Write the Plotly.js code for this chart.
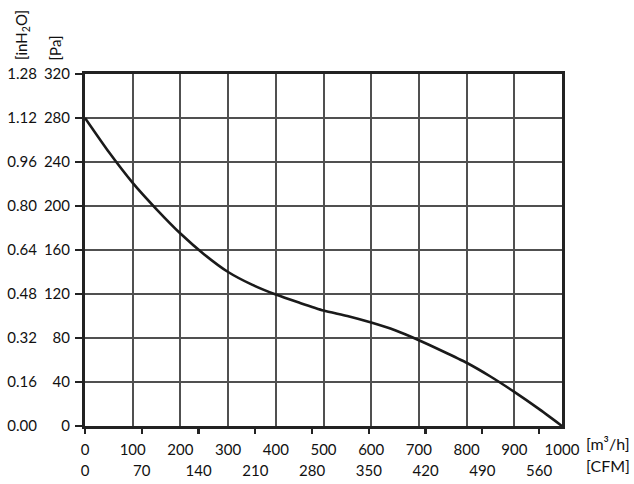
<!DOCTYPE html>
<html>
<head>
<meta charset="utf-8">
<script src="https://cdn.plot.ly/plotly-3.0.1.min.js"></script>
<style>html,body{margin:0;padding:0;background:#fff;}#chart{width:634px;height:484px;}</style>
</head>
<body>
<div id="chart"></div>
<script>
// Airflow in m³/h and static pressure in Pa
const flowM3h = [0, 50, 100, 150, 200, 250, 300, 350, 400, 450, 500, 550, 600, 650, 700, 750, 800, 850, 900, 950, 1000];
const pressurePa = [280, 249, 221, 197, 175, 156, 140, 128.5, 119.5, 112, 105, 100, 94, 87, 78, 68, 57.5, 45, 31, 16, 0];

const m3hTicks = [0, 100, 200, 300, 400, 500, 600, 700, 800, 900, 1000];
const cfmTicks = [0, 70, 140, 210, 280, 350, 420, 490, 560];
const paTicks = [0, 40, 80, 120, 160, 200, 240, 280, 320];
const inH2OTicks = [0, 0.16, 0.32, 0.48, 0.64, 0.80, 0.96, 1.12, 1.28];
const inH2OLabels = ["0.00", "0.16", "0.32", "0.48", "0.64", "0.80", "0.96", "1.12", "1.28"];

const M3H_PER_CFM = 1.7;
const PA_PER_INH2O = 250;

const font = {family: "Lato, sans-serif", size: 15, color: "#111"};

const trace = {
  x: flowM3h, y: pressurePa, type: "scatter", mode: "lines",
  line: {color: "#1a1a1a", width: 2.6, shape: "spline", smoothing: 0.6},
  hoverinfo: "skip", xaxis: "x", yaxis: "y"
};
// same curve in CFM / inH2O units, invisible, so the secondary axes are drawn
const traceAlt = {
  x: flowM3h.map(v => v / M3H_PER_CFM), y: pressurePa.map(v => v / PA_PER_INH2O),
  type: "scatter", mode: "lines", line: {width: 0, color: "rgba(0,0,0,0)"},
  opacity: 0, hoverinfo: "skip", xaxis: "x2", yaxis: "y2"
};

const layout = {
  width: 634, height: 484,
  margin: {l: 85, r: 72, t: 74, b: 58},
  paper_bgcolor: "#fff", plot_bgcolor: "#fff",
  showlegend: false,
  font: font,
  xaxis: {
    range: [0, 1000], autorange: false,
    tickvals: m3hTicks, ticktext: m3hTicks.map(String),
    ticks: "", showgrid: true, gridcolor: "#505050", gridwidth: 2,
    showline: true, linecolor: "#222", linewidth: 3, mirror: true,
    zeroline: false, ticklabelstandoff: 8, tickfont: font
  },
  xaxis2: {
    overlaying: "x", anchor: "free", position: 0, side: "bottom",
    range: [0, 1000 / M3H_PER_CFM], autorange: false,
    tickvals: cfmTicks, ticktext: cfmTicks.map(String),
    ticks: "outside", ticklen: 7, tickwidth: 2.2, tickcolor: "#222",
    showgrid: false, showline: false, zeroline: false,
    ticklabelstandoff: 24, tickfont: font
  },
  yaxis: {
    range: [0, 320], autorange: false,
    tickvals: paTicks, ticktext: paTicks.map(String),
    ticks: "outside", ticklen: 7, tickwidth: 2.2, tickcolor: "#222",
    showgrid: true, gridcolor: "#505050", gridwidth: 2,
    showline: true, linecolor: "#222", linewidth: 3, mirror: true,
    zeroline: false, ticklabelstandoff: 2, tickfont: font
  },
  yaxis2: {
    overlaying: "y", anchor: "free", position: 0, side: "left",
    range: [0, 320 / PA_PER_INH2O], autorange: false,
    tickvals: inH2OTicks, ticktext: inH2OLabels,
    ticks: "", showgrid: false, showline: false, zeroline: false,
    ticklabelstandoff: 48, tickfont: font
  },
  annotations: [
    {text: "[inH<sub>2</sub>O]", xref: "paper", yref: "paper", x: -0.132, y: 1.034,
     xanchor: "center", yanchor: "bottom", textangle: -90, showarrow: false, font: font},
    {text: "[Pa]", xref: "paper", yref: "paper", x: -0.063, y: 1.034,
     xanchor: "center", yanchor: "bottom", textangle: -90, showarrow: false, font: font},
    {text: "[m³/h]", xref: "paper", yref: "paper", x: 1.046, y: -0.05,
     xanchor: "left", yanchor: "middle", showarrow: false, font: {family: font.family, size: 16, color: font.color}},
    {text: "[CFM]", xref: "paper", yref: "paper", x: 1.046, y: -0.113,
     xanchor: "left", yanchor: "middle", showarrow: false, font: {family: font.family, size: 16, color: font.color}}
  ]
};

Plotly.newPlot("chart", [trace, traceAlt], layout, {displayModeBar: false, staticPlot: true});
</script>
</body>
</html>
